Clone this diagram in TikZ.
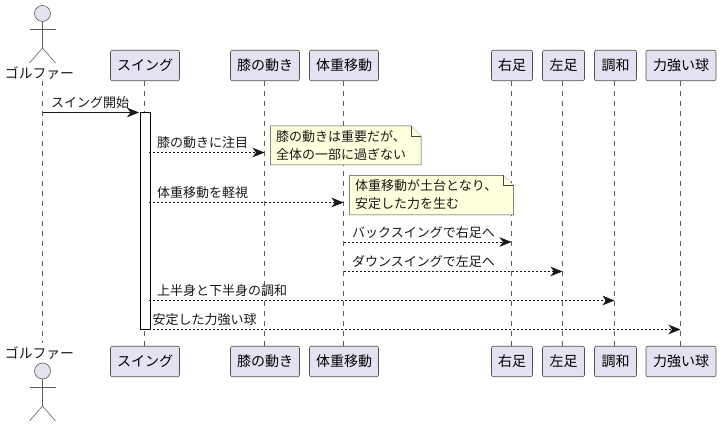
\documentclass[tikz,border=0pt]{standalone}
\usepackage{fontspec}
\setmainfont{Noto Sans CJK JP}
\usetikzlibrary{arrows.meta}
\definecolor{partfill}{HTML}{E2E2F0}
\definecolor{notefill}{HTML}{FEFFDD}
\definecolor{ink}{HTML}{181818}
\tikzset{
	part/.style={draw=ink!75, fill=partfill, rounded corners=2pt, line width=0.6pt, minimum height=30.5pt, inner sep=0pt, font=\fontsize{14}{16}\selectfont},
	life/.style={draw=ink!70, line width=0.5pt, dash pattern=on 5pt off 5pt},
	stick/.style={draw=ink!70, line width=0.6pt},
	msg/.style={ink, line width=0.7pt, -{Stealth[length=12pt,width=9.5pt,inset=3.5pt]}},
	dotmsg/.style={msg, dash pattern=on 2pt off 2pt},
	msgtext/.style={anchor=west, inner sep=0pt, text=ink, font=\fontsize{13}{15}\selectfont},
	notetext/.style={anchor=north west, inner sep=0pt, align=left, text=ink, font=\fontsize{13}{18}\selectfont},
	notebox/.style={draw=ink!80, fill=notefill, line width=0.5pt}
}
\begin{document}
\begin{tikzpicture}[x=1pt, y=-1pt]
	\useasboundingbox (0,0) rectangle (721,427);

	% top row
	\node[part, minimum width=69pt] (swingT) at (145,65.5) {スイング};
	\node[part, minimum width=69pt] (hizaT) at (265,65.5) {膝の動き};
	\node[part, minimum width=69pt] (jushinT) at (344,65.5) {体重移動};
	\node[part, minimum width=41pt] (migiT) at (512,65.5) {右足};
	\node[part, minimum width=42pt] (hidariT) at (563.5,65.5) {左足};
	\node[part, minimum width=42pt] (chowaT) at (615.5,65.5) {調和};
	\node[part, minimum width=70pt] (kyuT) at (681,65.5) {力強い球};
	\node[inner sep=0pt, font=\fontsize{13.8}{15}\selectfont, text=ink] (golfT) at (39.5,73) {ゴルファー};

	% bottom row
	\node[part, minimum width=69pt] (swingB) at (145,361.5) {スイング};
	\node[part, minimum width=69pt] (hizaB) at (265,361.5) {膝の動き};
	\node[part, minimum width=69pt] (jushinB) at (344,361.5) {体重移動};
	\node[part, minimum width=41pt] (migiB) at (512,361.5) {右足};
	\node[part, minimum width=42pt] (hidariB) at (563.5,361.5) {左足};
	\node[part, minimum width=42pt] (chowaB) at (615.5,361.5) {調和};
	\node[part, minimum width=70pt] (kyuB) at (681,361.5) {力強い球};
	\node[inner sep=0pt, font=\fontsize{13.8}{15}\selectfont, text=ink] (golfB) at (39.5,353.5) {ゴルファー};

	% life lines
	\coordinate (golfU) at (42.5,81);
	\coordinate (golfD) at (42.5,343);
	\draw[life] (golfU) -- (golfD);
	\draw[life] (swingT.south -| 144.5,0) -- (swingB.north -| 144.5,0);
	\draw[life] (hizaT.south -| 264.5,0) -- (hizaB.north -| 264.5,0);
	\draw[life] (jushinT.south -| 343.5,0) -- (jushinB.north -| 343.5,0);
	\draw[life] (migiT.south -| 511.5,0) -- (migiB.north -| 511.5,0);
	\draw[life] (hidariT.south -| 562.5,0) -- (hidariB.north -| 562.5,0);
	\draw[life] (chowaT.south -| 614.5,0) -- (chowaB.north -| 614.5,0);
	\draw[life] (kyuT.south -| 680.5,0) -- (kyuB.north -| 680.5,0);

	% actor, top
	\draw[stick, fill=partfill] (42.5,13.5) circle (8);
	\draw[stick] (42.5,21.5) -- (42.5,48) (29.5,29) -- (55.5,29);
	\draw[stick] (29.5,63) -- (42.5,48) -- (55.5,63);
	% actor, bottom
	\draw[stick, fill=partfill] (42.5,371) circle (8);
	\draw[stick] (42.5,379) -- (42.5,406) (29.5,387) -- (55.5,387);
	\draw[stick] (29.5,421) -- (42.5,406) -- (55.5,421);

	% activation
	\draw[draw=black, fill=white, line width=0.8pt] (140.5,112.5) rectangle (150.5,329.5);

	% notes
	\draw[notebox] (270.5,126) -- (411,126) -- (421,136) -- (421,165) -- (270.5,165) -- cycle;
	\draw[notebox] (411,126) -- (411,136) -- (421,136);
	\node[notetext] (note1) at (276,130) {膝の動きは重要だが、\\全体の一部に過ぎない};
	\draw[notebox] (349.5,175.5) -- (503.5,175.5) -- (513.5,185.5) -- (513.5,215) -- (349.5,215) -- cycle;
	\draw[notebox] (503.5,175.5) -- (503.5,185.5) -- (513.5,185.5);
	\node[notetext] (note2) at (355,179.5) {体重移動が土台となり、\\安定した力を生む};

	% messages
	\coordinate (m1a) at (42.5,112.5);
	\coordinate (m1b) at (139,112.5);
	\draw[msg] (m1a) -- (m1b);
	\node[msgtext] (t1) at (51,103) {スイング開始};

	\coordinate (m2a) at (149,152.5);
	\coordinate (m2b) at (264.5,152.5);
	\draw[dotmsg] (m2a) -- (m2b);
	\node[msgtext] (t2) at (157,143) {膝の動きに注目};

	\coordinate (m3a) at (149,202.5);
	\coordinate (m3b) at (343.5,202.5);
	\draw[dotmsg] (m3a) -- (m3b);
	\node[msgtext] (t3) at (157,193) {体重移動を軽視};

	\coordinate (m4a) at (343.5,242);
	\coordinate (m4b) at (511.5,242);
	\draw[dotmsg] (m4a) -- (m4b);
	\node[msgtext] (t4) at (352,232.5) {バックスイングで右足へ};

	\coordinate (m5a) at (343.5,271.5);
	\coordinate (m5b) at (562.5,271.5);
	\draw[dotmsg] (m5a) -- (m5b);
	\node[msgtext] (t5) at (352,261.5) {ダウンスイングで左足へ};

	\coordinate (m6a) at (149,300.5);
	\coordinate (m6b) at (614.5,300.5);
	\draw[dotmsg] (m6a) -- (m6b);
	\node[msgtext] (t6) at (157,290.5) {上半身と下半身の調和};

	\coordinate (m7a) at (149,329.5);
	\coordinate (m7b) at (680.5,329.5);
	\draw[dotmsg] (m7a) -- (m7b);
	\node[msgtext] (t7) at (152.5,319.5) {安定した力強い球};
\end{tikzpicture}
\end{document}
